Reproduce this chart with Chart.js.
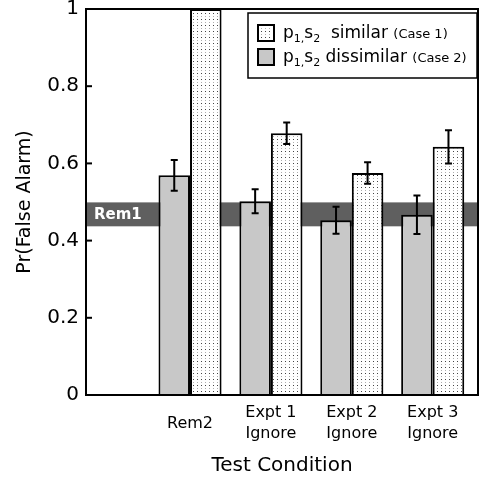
<!DOCTYPE html>
<html>
<head>
<meta charset="utf-8">
<script src="https://cdn.jsdelivr.net/npm/chart.js@4/dist/chart.umd.min.js"></script>
<style>
  body { margin: 0; background: #fff; }
  canvas { display: block; }
</style>
</head>
<body>
<canvas id="falseAlarmChart" width="480" height="482"></canvas>
<script>
    // Data
    const categories = ['Rem2', ['Expt 1', 'Ignore'], ['Expt 2', 'Ignore'], ['Expt 3', 'Ignore']];
    const xPositions = [1, 2, 3, 4];
    const dissimilar = [0.569, 0.502, 0.453, 0.467];      // p1,s2 dissimilar (Case 2)
    const dissimilarErr = [0.040, 0.031, 0.035, 0.050];
    const similar = [1.0, 0.678, 0.575, 0.643];           // p1,s2 similar (Case 1)
    const similarErr = [null, 0.028, 0.028, 0.043];
    const rem1Band = [0.437, 0.499];
    const yTicks = [0, 0.2, 0.4, 0.6, 0.8, 1];

    const FONT = "'DejaVu Sans', Verdana, sans-serif";

    // dotted fill pattern
    function makeDots() {
        const c = document.createElement('canvas');
        c.width = 4; c.height = 6;
        const g = c.getContext('2d');
        g.fillStyle = '#fff';
        g.fillRect(0, 0, 4, 6);
        g.fillStyle = '#444';
        g.fillRect(1, 1, 1, 1);
        g.fillStyle = '#b0b0b0';
        g.fillRect(1, 4, 1, 1);
        return g.createPattern(c, 'repeat');
    }
    const dots = makeDots();

    // Rem1 band behind the bars
    const bandPlugin = {
        id: 'band',
        beforeDatasetsDraw(chart) {
            const {ctx, chartArea: a, scales: {y}} = chart;
            const top = y.getPixelForValue(rem1Band[1]);
            const bot = y.getPixelForValue(rem1Band[0]);
            ctx.save();
            ctx.fillStyle = '#5f5f5f';
            ctx.fillRect(a.left, top, a.right - a.left, bot - top);
            ctx.fillStyle = '#fff';
            ctx.font = 'bold 15px ' + FONT;
            ctx.textBaseline = 'middle';
            ctx.fillText('Rem1', a.left + 8, (top + bot) / 2 + 1);
            ctx.restore();
        }
    };

    // error bars, frame, inner ticks and legend
    const overlayPlugin = {
        id: 'overlay',
        afterDatasetsDraw(chart) {
            const {ctx, chartArea: a, scales: {y}} = chart;
            ctx.save();
            ctx.strokeStyle = '#000';
            ctx.lineWidth = 2;
            [[dissimilar, dissimilarErr], [similar, similarErr]].forEach(([vals, errs], d) => {
                chart.getDatasetMeta(d).data.forEach((bar, i) => {
                    if (errs[i] == null) return;
                    const x = bar.x;
                    const y1 = y.getPixelForValue(vals[i] + errs[i]);
                    const y2 = y.getPixelForValue(vals[i] - errs[i]);
                    ctx.beginPath();
                    ctx.moveTo(x, y1); ctx.lineTo(x, y2);
                    ctx.moveTo(x - 3.5, y1); ctx.lineTo(x + 3.5, y1);
                    ctx.moveTo(x - 3.5, y2); ctx.lineTo(x + 3.5, y2);
                    ctx.stroke();
                });
            });

            // frame
            ctx.strokeRect(a.left, a.top, a.right - a.left, a.bottom - a.top);
            // inward y ticks
            yTicks.forEach(v => {
                const py = y.getPixelForValue(v);
                ctx.beginPath();
                ctx.moveTo(a.left, py); ctx.lineTo(a.left + 6, py);
                ctx.stroke();
            });

            // legend
            const lx = a.right - 230, ly = a.top + 4, lw = 229, lh = 65;
            ctx.fillStyle = '#fff';
            ctx.fillRect(lx, ly, lw, lh);
            ctx.lineWidth = 1.5;
            ctx.strokeRect(lx, ly, lw, lh);
            const rows = [
                {fill: dots, word: '  similar', note: '(Case 1)'},
                {fill: '#c8c8c8', word: ' dissimilar', note: '(Case 2)'}
            ];
            rows.forEach((r, k) => {
                const cy = ly + 20 + k * 24;
                ctx.fillStyle = r.fill;
                ctx.fillRect(lx + 10, cy - 8, 16, 16);
                ctx.lineWidth = 2;
                ctx.strokeRect(lx + 10, cy - 8, 16, 16);
                ctx.fillStyle = '#000';
                ctx.textBaseline = 'alphabetic';
                let tx = lx + 35;
                const base = cy + 5;
                const part = (txt, size, dy) => {
                    ctx.font = size + 'px ' + FONT;
                    ctx.fillText(txt, tx, base + dy);
                    tx += ctx.measureText(txt).width;
                };
                part('p', 17, 0);
                part('1,', 11, 4);
                part('s', 17, 0);
                part('2', 11, 4);
                part(r.word + ' ', 17, 0);
                part(r.note, 13, 0);
            });
            ctx.restore();
        }
    };

    const config = {
        type: 'bar',
        data: {
            datasets: [{
                label: 'p1,s2 dissimilar (Case 2)',
                data: xPositions.map((x, i) => ({x: x, y: dissimilar[i]})),
                backgroundColor: '#c8c8c8',
                borderColor: '#000',
                borderWidth: 2
            }, {
                label: 'p1,s2 similar (Case 1)',
                data: xPositions.map((x, i) => ({x: x, y: similar[i]})),
                backgroundColor: dots,
                borderColor: '#000',
                borderWidth: 2
            }]
        },
        options: {
            responsive: false,
            animation: false,
            barPercentage: 1,
            categoryPercentage: 0.78,
            layout: {padding: {top: 9, right: 2, left: 0, bottom: 0}},
            plugins: {
                legend: {display: false},
                tooltip: {enabled: false}
            },
            scales: {
                x: {
                    type: 'linear',
                    offset: false,
                    min: -0.286,
                    max: 4.56,
                    grid: {display: false, drawTicks: false, offset: false},
                    border: {display: false},
                    ticks: {
                        stepSize: 1,
                        includeBounds: false,
                        autoSkip: false,
                        maxRotation: 0,
                        padding: 18,
                        crossAlign: 'center',
                        color: '#000',
                        font: {family: FONT, size: 16, lineHeight: 1.3},
                        callback: v => {
                            const i = xPositions.indexOf(v);
                            return i >= 0 ? categories[i] : '';
                        }
                    },
                    title: {
                        display: true,
                        text: 'Test Condition',
                        color: '#000',
                        font: {family: FONT, size: 20},
                        padding: {top: 0, bottom: 4}
                    },
                    afterFit: s => { s.height = 87; s.paddingLeft = 0; s.paddingRight = 0; }
                },
                y: {
                    min: 0,
                    max: 1,
                    grid: {display: false, drawTicks: false},
                    border: {display: false},
                    afterBuildTicks: s => { s.ticks = yTicks.map(v => ({value: v})); },
                    ticks: {
                        padding: 7,
                        color: '#000',
                        font: {family: FONT, size: 20},
                        callback: v => (v === 0 || v === 1) ? String(v) : v.toFixed(1)
                    },
                    title: {
                        display: true,
                        text: 'Pr(False Alarm)',
                        color: '#000',
                        font: {family: FONT, size: 19},
                        padding: {top: 14, bottom: 0}
                    },
                    afterFit: s => { s.width = 86; s.paddingTop = 0; s.paddingBottom = 0; }
                }
            }
        },
        plugins: [bandPlugin, overlayPlugin]
    };

    const chart = new Chart(document.getElementById('falseAlarmChart'), config);
</script>
</body>
</html>
